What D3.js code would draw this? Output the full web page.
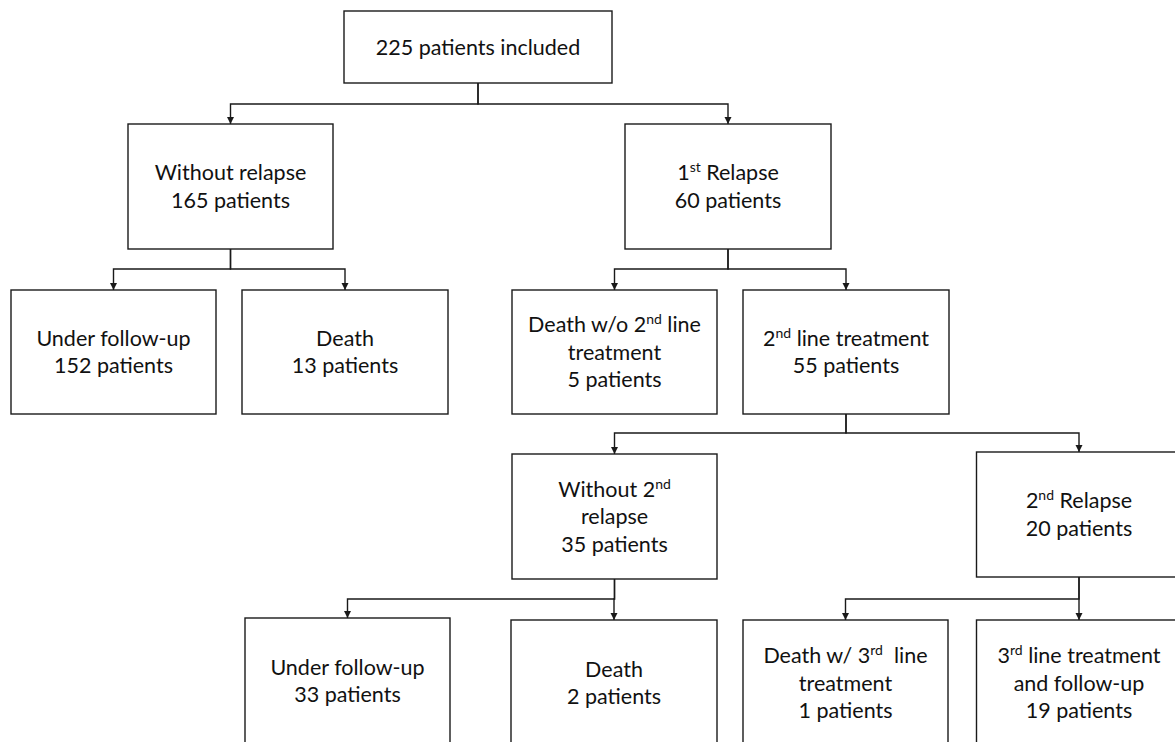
<!DOCTYPE html>
<html>
<head>
<meta charset="utf-8">
<script src="https://cdn.jsdelivr.net/npm/d3@7"></script>
<style>
  html, body { margin: 0; padding: 0; background: #fff; }
  svg { display: block; }
  text { font-family: Lato, "Open Sans", sans-serif; fill: #111; }
</style>
</head>
<body>
<svg id="chart" width="1175" height="742"></svg>
<script>
// ---- data ----
const nodeIds = ["all", "noRel", "rel1", "fu1", "death1", "deathNo2", "line2", "noRel2", "rel2", "fu2", "death2", "death3", "line3"];
const nodeTitles = [
  [],
  ["Without relapse"],
  ["1^st^ Relapse"],
  ["Under follow-up"],
  ["Death"],
  ["Death w/o 2^nd^ line", "treatment"],
  ["2^nd^ line treatment"],
  ["Without 2^nd^", "relapse"],
  ["2^nd^ Relapse"],
  ["Under follow-up"],
  ["Death"],
  ["Death w/ 3^rd^  line", "treatment"],
  ["3^rd^ line treatment", "and follow-up"]
];
const patientCounts = [225, 165, 60, 152, 13, 5, 55, 35, 20, 33, 2, 1, 19];
const countSuffix = ["patients included", "patients", "patients", "patients", "patients", "patients", "patients", "patients", "patients", "patients", "patients", "patients", "patients"];
const parentIds = [null, "all", "all", "noRel", "noRel", "rel1", "rel1", "line2", "line2", "noRel2", "noRel2", "rel2", "rel2"];

// ---- layout (positions kept separate from data) ----
const layout = {
  all:      { cx: 478,   top: 11,  w: 268, h: 72 },
  noRel:    { cx: 230.5, top: 124, w: 205, h: 125 },
  rel1:     { cx: 728,   top: 124, w: 206, h: 125 },
  fu1:      { cx: 113.5, top: 290, w: 205, h: 124 },
  death1:   { cx: 345,   top: 290, w: 206, h: 124 },
  deathNo2: { cx: 614.5, top: 290, w: 205, h: 124 },
  line2:    { cx: 846,   top: 290, w: 206, h: 124 },
  noRel2:   { cx: 614.5, top: 454, w: 205, h: 125 },
  rel2:     { cx: 1079,  top: 452, w: 205, h: 125 },
  fu2:      { cx: 347.5, top: 618, w: 205, h: 126 },
  death2:   { cx: 614,   top: 620, w: 206, h: 126 },
  death3:   { cx: 845.5, top: 620, w: 205, h: 126 },
  line3:    { cx: 1079,  top: 620, w: 205, h: 126 }
};
const elbowY = { all: 104, noRel: 269, rel1: 269, line2: 433, noRel2: 599, rel2: 599 };

const nodes = nodeIds.map((id, i) => ({
  id, lines: nodeTitles[i].concat([patientCounts[i] + " " + countSuffix[i]]),
  parent: parentIds[i], ...layout[id]
}));
const byId = new Map(nodes.map(n => [n.id, n]));

const svg = d3.select("#chart");
const stroke = "#1a1a1a";
const fontSize = 21.5, supSize = 14, supShift = 8, lineH = 27.5;

svg.append("defs").append("marker")
  .attr("id", "arrow").attr("viewBox", "0 0 10 10")
  .attr("refX", 10).attr("refY", 5)
  .attr("markerWidth", 7).attr("markerHeight", 9)
  .attr("markerUnits", "userSpaceOnUse")
  .attr("orient", "auto")
  .append("path").attr("d", "M0,0 L10,5 L0,10 Z").attr("fill", stroke);

// connectors
const links = nodes.filter(n => n.parent).map(n => ({ source: byId.get(n.parent), target: n }));
svg.append("g").selectAll("path").data(links).join("path")
  .attr("fill", "none").attr("stroke", stroke).attr("stroke-width", 1.4)
  .attr("marker-end", "url(#arrow)")
  .attr("d", d => {
    const sx = d.source.cx, sy = d.source.top + d.source.h, my = elbowY[d.source.id];
    const tx = d.target.cx, ty = d.target.top;
    const p = d3.path();
    p.moveTo(sx, sy); p.lineTo(sx, my); p.lineTo(tx, my); p.lineTo(tx, ty);
    return p.toString();
  });

// boxes
const g = svg.append("g").selectAll("g").data(nodes).join("g");
g.append("rect")
  .attr("x", d => d.cx - d.w / 2).attr("y", d => d.top)
  .attr("width", d => d.w).attr("height", d => d.h)
  .attr("fill", "#fff").attr("stroke", stroke).attr("stroke-width", 1.4);

// labels with superscripts (one text element per line, relative dy shifts)
g.each(function(d) {
  const sel = d3.select(this);
  const n = d.lines.length;
  const centerY = d.top + d.h / 2;
  d.lines.forEach((line, li) => {
    const baseY = centerY - (n - 1) * lineH / 2 + li * lineH + fontSize * 0.36;
    const t = sel.append("text")
      .attr("text-anchor", "middle")
      .attr("x", d.cx).attr("y", baseY)
      .attr("font-size", fontSize)
      .style("white-space", "pre");
    let shift = 0;
    line.split("^").forEach((p, pi) => {
      if (p === "") return;
      const sup = pi % 2 === 1;
      const target = sup ? -supShift : 0;
      t.append("tspan").text(p)
        .attr("dy", target - shift)
        .attr("font-size", sup ? supSize : fontSize);
      shift = target;
    });
  });
});
</script>
</body>
</html>
